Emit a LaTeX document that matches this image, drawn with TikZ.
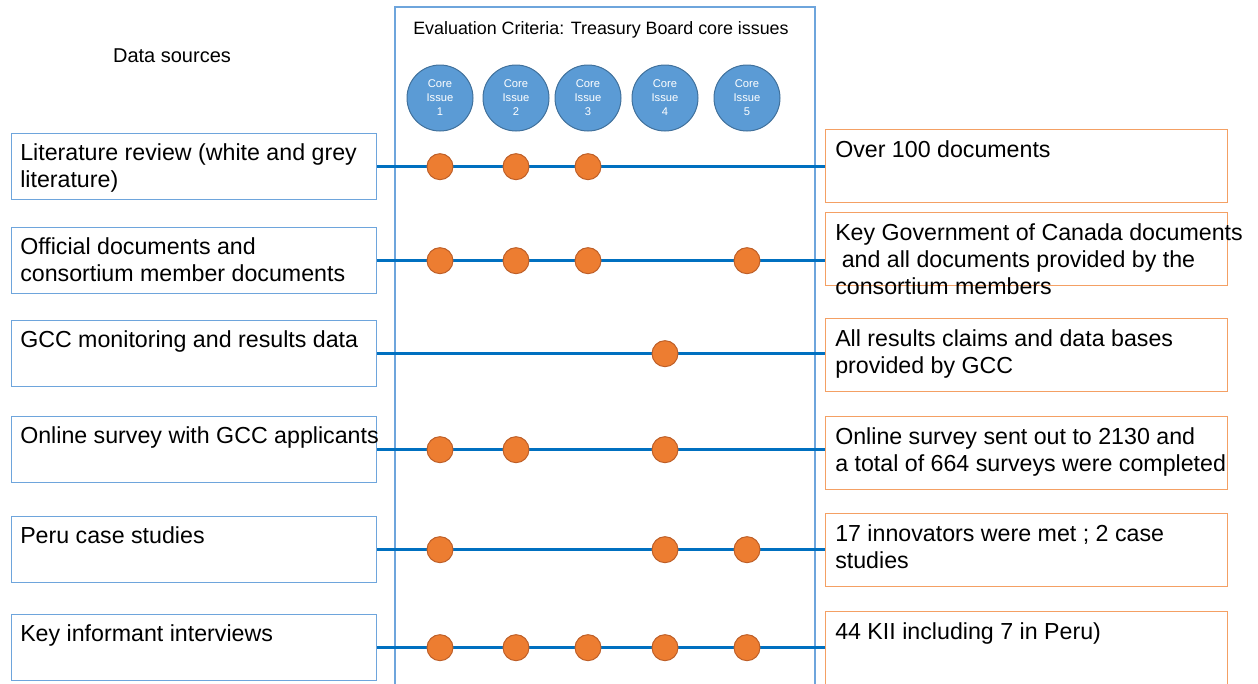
\documentclass[tikz,border=0pt]{standalone}
\usepackage{fontspec}
\setmainfont{Liberation Sans}

\definecolor{frameblue}{RGB}{110,165,220}
\definecolor{issuefill}{RGB}{91,155,213}
\definecolor{issuedraw}{RGB}{65,113,156}
\definecolor{linkblue}{RGB}{0,112,192}
\definecolor{dotfill}{RGB}{237,125,49}
\definecolor{dotdraw}{RGB}{190,95,40}
\definecolor{resorange}{RGB}{244,160,100}

\begin{document}
\begin{tikzpicture}[x=0.75pt,y=0.75pt,yscale=-1,xscale=1,
  srcbox/.style={draw=frameblue,line width=1pt,anchor=north west,inner sep=0pt,minimum width=273.75pt,minimum height=49.5pt},
  resbox/.style={draw=resorange,line width=1pt,anchor=north west,inner sep=0pt,minimum width=301.5pt,minimum height=54.75pt},
  boxtext/.style={anchor=north west,inner sep=0pt,align=left,font=\fontsize{17.4}{20.3}\selectfont},
  issue/.style={circle,draw=issuedraw,fill=issuefill,line width=0.75pt,minimum size=49.5pt,inner sep=0pt,align=center,text=white,font=\fontsize{8.4}{10.5}\selectfont},
  hit/.style={circle,draw=dotdraw,fill=dotfill,line width=0.75pt,minimum size=19.5pt,inner sep=0pt},
  link/.style={draw=linkblue,line width=2.25pt}]
\useasboundingbox (0,0) rectangle (1258,683);
\clip (0,0) rectangle (1258,683);

%Shape: Rectangle, open at the foot
\draw [frameblue,line width=1.1pt] (395,690) -- (395,7) -- (815,7) -- (815,690);

% Text Node
\node (title) at (601,30) [font=\fontsize{13.4}{16}\selectfont] {Evaluation Criteria: Treasury Board core issues};
% Text Node
\node (head) at (172,56) [font=\fontsize{15}{18}\selectfont] {Data sources};

%Shape: Circles, one per core issue
\foreach \x [count=\c] in {440,516,588,665,747}
  \node [issue] (iss\c) at (\x,98) {Core\\Issue\\\c};

%Rows: source box, result box, link and the issues hit
\foreach \ly/\ry/\hits/\src/\res [count=\i] in {
  133/129/{1,2,3}/{Literature review (white and grey\\literature)}/{Over 100 documents},
  227/212/{1,2,3,5}/{Official documents and\\consortium member documents}/{Key Government of Canada documents\\\hspace*{0.28em}and all documents provided by the\\consortium members},
  320/318/{4}/{GCC monitoring and results data}/{All results claims and data bases\\provided by GCC},
  416/416/{1,2,4}/{Online survey with GCC applicants}/{Online survey sent out to 2130 and\\a total of 664 surveys were completed},
  516/513/{1,4,5}/{Peru case studies}/{17 innovators were met ; 2 case\\studies},
  614/611/{1,2,3,4,5}/{Key informant interviews}/{44 KII including 7 in Peru)}}
{
  \node [srcbox] (src\i) at (11,\ly) {};
  \node [resbox] (res\i) at (825,\ry) {};
  \node [boxtext] (src\i-t) at (20,\ly+10.5) {\src};
  \node [boxtext] (res\i-t) at (835,\ry+11) {\res};
  \draw [link] (src\i.east) -- (src\i.east -| res\i.west);
  \foreach \c in \hits
    \node [hit] (hit\i-\c) at (iss\c |- src\i.east) {};
}

\end{tikzpicture}
\end{document}
